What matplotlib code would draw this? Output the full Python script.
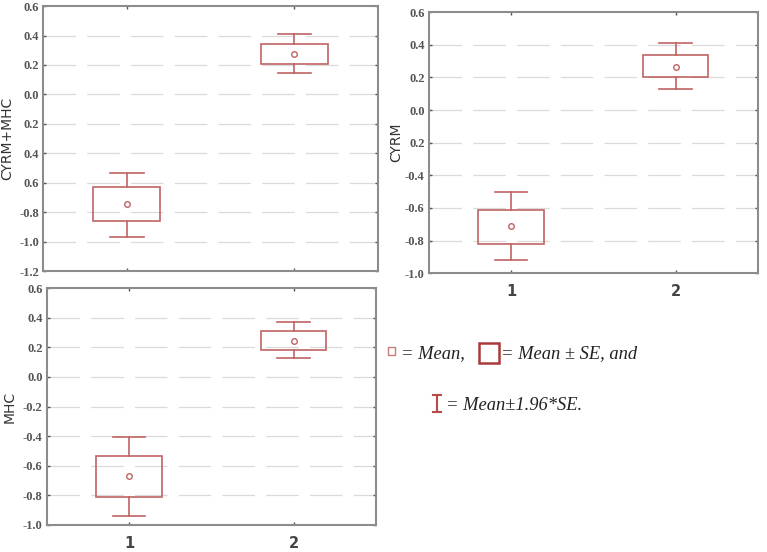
import matplotlib
matplotlib.use("Agg")
import matplotlib.pyplot as plt
from matplotlib.patches import Rectangle
from matplotlib.lines import Line2D

groups = [1, 2]
group_labels = ["1", "2"]

# CYRM+MHC
both_mean = [-0.747, 0.275]
both_box_lo = [-0.86, 0.207]
both_box_hi = [-0.63, 0.343]
both_ci_lo = [-0.968, 0.143]
both_ci_hi = [-0.534, 0.407]
both_ticks = [0.6, 0.4, 0.2, 0.0, -0.2, -0.4, -0.6, -0.8, -1.0, -1.2]
both_ticklabels = ["0.6", "0.4", "0.2", "0.0", "0.2", "0.4", "0.6", "-0.8", "-1.0", "-1.2"]

# CYRM
cyrm_mean = [-0.712, 0.264]
cyrm_box_lo = [-0.82, 0.20]
cyrm_box_hi = [-0.61, 0.34]
cyrm_ci_lo = [-0.917, 0.128]
cyrm_ci_hi = [-0.504, 0.41]
cyrm_ticks = [0.6, 0.4, 0.2, 0.0, -0.2, -0.4, -0.6, -0.8, -1.0]
cyrm_ticklabels = ["0.6", "0.4", "0.2", "0.0", "0.2", "-0.4", "-0.6", "-0.8", "-1.0"]

# MHC
mhc_mean = [-0.669, 0.246]
mhc_box_lo = [-0.808, 0.181]
mhc_box_hi = [-0.534, 0.312]
mhc_ci_lo = [-0.939, 0.125]
mhc_ci_hi = [-0.403, 0.37]
mhc_ticks = [0.6, 0.4, 0.2, 0.0, -0.2, -0.4, -0.6, -0.8, -1.0]
mhc_ticklabels = ["0.6", "0.4", "0.2", "0.0", "-0.2", "-0.4", "-0.6", "-0.8", "-1.0"]

box_color = "#bf6363"
spine_color = "#8c8c8c"


def draw_panel(ax, mean, box_lo, box_hi, ci_lo, ci_hi, ticks, ticklabels, ylabel,
               show_x=True, label_x=-0.085):
    ax.set_xlim(0.5, 2.5)
    ax.set_ylim(min(ticks), max(ticks))
    for t in ticks[1:-1]:
        ax.axhline(t, color="#dadada", lw=0.9, dashes=(26, 9), zorder=0)
    for i, g in enumerate(groups):
        ax.add_patch(Rectangle((g - 0.2, box_lo[i]), 0.4, box_hi[i] - box_lo[i],
                               fill=False, ec=box_color, lw=1.2, zorder=3))
        ax.plot([g, g], [box_hi[i], ci_hi[i]], color=box_color, lw=1.2)
        ax.plot([g, g], [box_lo[i], ci_lo[i]], color=box_color, lw=1.2)
        ax.plot([g - 0.1, g + 0.1], [ci_hi[i], ci_hi[i]], color=box_color, lw=1.2)
        ax.plot([g - 0.1, g + 0.1], [ci_lo[i], ci_lo[i]], color=box_color, lw=1.2)
        ax.plot(g, mean[i], "o", ms=4, mfc="white", mec=box_color, mew=1.0, zorder=4)
    ax.set_yticks(ticks)
    ax.set_yticklabels(ticklabels, fontfamily="Liberation Serif", fontweight="bold",
                       fontsize=9, color="#555555")
    ax.set_xticks(groups)
    if show_x:
        ax.set_xticklabels(group_labels, fontsize=10.5, fontweight="bold", color="#444444")
    else:
        ax.set_xticklabels([])
    ax.tick_params(axis="both", direction="in", length=2.5, width=1, color="#555555",
                   top=True, right=True)
    ax.tick_params(axis="x", pad=8)
    ax.tick_params(axis="y", pad=3)
    for s in ax.spines.values():
        s.set_color(spine_color)
        s.set_linewidth(1.5)
    ax.set_ylabel(ylabel, fontsize=10, color="#333333")
    ax.yaxis.set_label_coords(label_x, 0.5)


fig = plt.figure(figsize=(7.67, 5.52), dpi=100)

ax1 = fig.add_axes([0.056, 0.509, 0.437, 0.480])
draw_panel(ax1, both_mean, both_box_lo, both_box_hi, both_ci_lo, both_ci_hi,
           both_ticks, both_ticklabels, "CYRM+MHC", show_x=False, label_x=-0.087)

ax2 = fig.add_axes([0.559, 0.505, 0.429, 0.473])
draw_panel(ax2, cyrm_mean, cyrm_box_lo, cyrm_box_hi, cyrm_ci_lo, cyrm_ci_hi,
           cyrm_ticks, cyrm_ticklabels, "CYRM", label_x=-0.079)

ax3 = fig.add_axes([0.061, 0.049, 0.429, 0.429])
draw_panel(ax3, mhc_mean, mhc_box_lo, mhc_box_hi, mhc_ci_lo, mhc_ci_hi,
           mhc_ticks, mhc_ticklabels, "MHC", label_x=-0.091)

# legend key, placed in pixel-like figure fractions
W, H = 767.0, 552.0


def fx(x):
    return x / W


def fy(y):
    return 1 - y / H


tf = fig.transFigure
key_font = dict(fontfamily="Liberation Serif", style="italic", fontsize=13.3,
                color="#222222", va="baseline")
fig.add_artist(Rectangle((fx(388), fy(355)), fx(7), 8 / H, fill=False,
                         ec="#c77a7a", lw=1.0, transform=tf))
fig.text(fx(401), fy(358), "= Mean,", **key_font)
fig.add_artist(Rectangle((fx(479), fy(363)), fx(20), 20 / H, fill=False,
                         ec="#a83a3a", lw=1.8, transform=tf))
fig.text(fx(501), fy(358), "= Mean \u00b1 SE, and", **key_font)
fig.add_artist(Line2D([fx(437), fx(437)], [fy(395), fy(412)], color="#b84a4a",
                      lw=1.5, transform=tf))
fig.add_artist(Line2D([fx(433), fx(441)], [fy(395), fy(395)], color="#b84a4a",
                      lw=1.5, transform=tf))
fig.add_artist(Line2D([fx(433), fx(441)], [fy(412), fy(412)], color="#b84a4a",
                      lw=1.5, transform=tf))
fig.text(fx(446), fy(410), "= Mean\u00b11.96*SE.", **key_font)

fig.savefig("out.png", dpi=100)
